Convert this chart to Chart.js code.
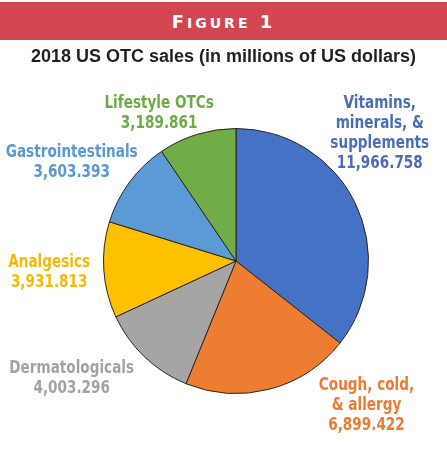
<!DOCTYPE html>
<html>
<head>
<meta charset="utf-8">
<script src="https://cdn.jsdelivr.net/npm/chart.js@4"></script>
<style>
    html, body { margin: 0; padding: 0; background: #fff; }
    #wrap { position: relative; width: 447px; height: 467px; overflow: hidden; }
    #band {
        position: absolute; left: 0; top: 2px; width: 447px; height: 38px;
        background: #d2464f; color: #fff; text-align: center;
        font: bold 18px "DejaVu Sans", sans-serif;
        letter-spacing: 3px; line-height: 40px;
    }
    #band .sc { font-size: 14px; }
    #title {
        position: absolute; left: 0; top: 46px; width: 447px; text-align: center;
        font: bold 18px "Liberation Sans", Arial, sans-serif; color: #231f20;
    }
    canvas { position: absolute; left: 0; top: 0; }
</style>
</head>
<body>
<div id="wrap">
    <canvas id="pieChart" width="447" height="467"></canvas>
    <div id="band">F<span class="sc">IGURE</span> 1</div>
    <div id="title">2018 US OTC sales (in millions of US dollars)</div>
</div>
<script>
const categories = [
    'Vitamins, minerals, & supplements', 'Cough, cold, & allergy', 'Dermatologicals',
    'Analgesics', 'Gastrointestinals', 'Lifestyle OTCs'
];
const salesValues = [11966.758, 6899.422, 4003.296, 3931.813, 3603.393, 3189.861];
const valueLabels = ['11,966.758', '6,899.422', '4,003.296', '3,931.813', '3,603.393', '3,189.861'];
const labelLines = [
    ['Vitamins,', 'minerals, &', 'supplements'],
    ['Cough, cold,', '& allergy'],
    ['Dermatologicals'],
    ['Analgesics'],
    ['Gastrointestinals'],
    ['Lifestyle OTCs']
];
const sliceColors = ['#4472c4', '#ed7d31', '#a5a5a5', '#ffc000', '#5b9bd5', '#70ad47'];
const textColors = ['#4a6db5', '#ec7a30', '#a3a3a3', '#f5b90a', '#5a98d2', '#6eaa45'];
// label anchor (first line), as multiples of the pie radius from its centre
const labelAnchors = [
    [1.085, -1.19], [0.985, 0.94], [-1.24, 0.81],
    [-1.41, 0.01], [-1.24, -0.82], [-0.58, -1.19]
];

const outsideLabels = {
    id: 'outsideLabels',
    afterDraw(chart) {
        const arc = chart.getDatasetMeta(0).data[0];
        const ctx = chart.ctx;
        const r = arc.outerRadius;
        for (let i = 0; i < categories.length; i++) {
            const lines = labelLines[i].concat([valueLabels[i]]);
            ctx.save();
            ctx.translate(arc.x + labelAnchors[i][0] * r, arc.y + labelAnchors[i][1] * r);
            // squeeze the glyphs, the original uses a condensed face
            ctx.scale(0.8, 1);
            ctx.font = 'bold 17px "DejaVu Sans", sans-serif';
            ctx.textAlign = 'center';
            ctx.textBaseline = 'middle';
            ctx.fillStyle = textColors[i];
            let y = 0;
            for (const line of lines) {
                ctx.fillText(line, 0, y);
                y += 20;
            }
            ctx.restore();
        }
    }
};

new Chart(document.getElementById('pieChart'), {
    type: 'pie',
    data: {
        labels: categories,
        datasets: [{
            data: salesValues,
            backgroundColor: sliceColors,
            borderColor: '#2e2420',
            borderWidth: 1,
            hoverOffset: 0
        }]
    },
    options: {
        responsive: false,
        animation: false,
        layout: { padding: { left: 103, right: 78, top: 128, bottom: 73 } },
        plugins: {
            legend: { display: false },
            tooltip: { enabled: false }
        }
    },
    plugins: [outsideLabels]
});
</script>
</body>
</html>
